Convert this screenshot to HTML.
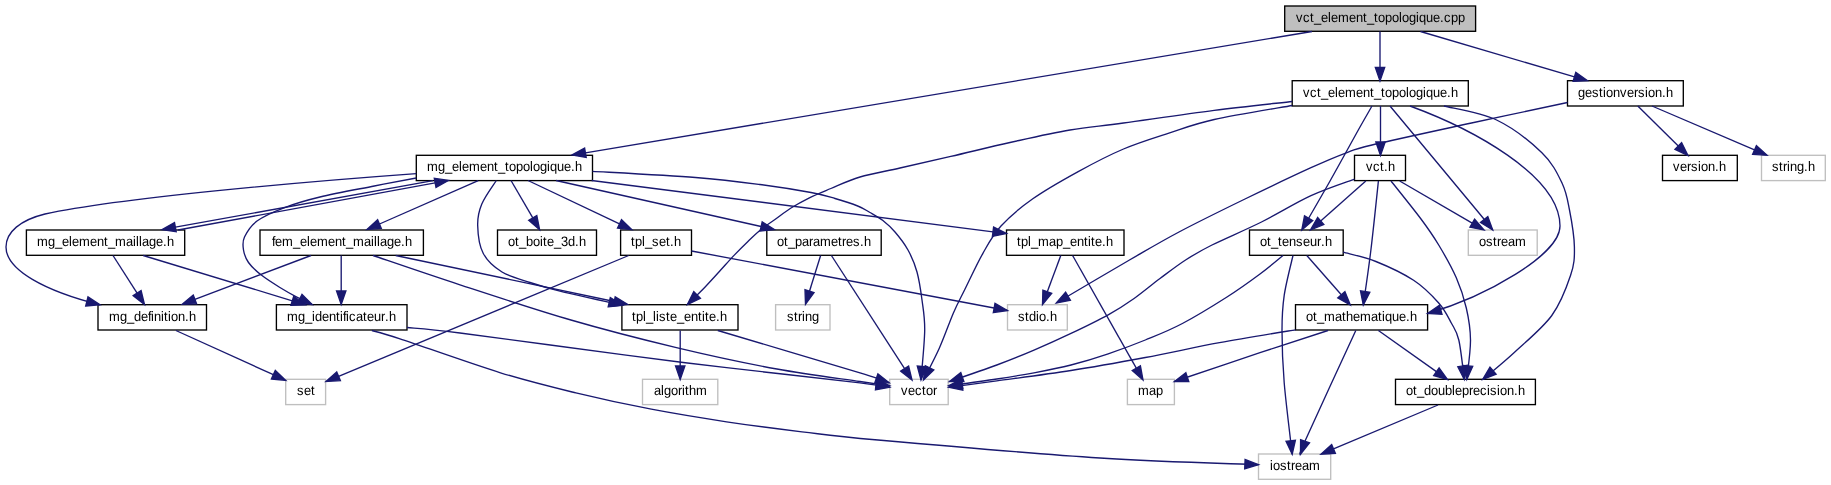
<!DOCTYPE html><html><head><meta charset="utf-8"><style>html,body{margin:0;padding:0;background:#fff;}svg{display:block;will-change:transform}text{font-family:"Liberation Sans",sans-serif;font-size:13.7px;fill:#000;text-anchor:start}</style></head><body>
<svg width="1831" height="485" viewBox="0 0 1831 485">
<rect width="1831" height="485" fill="#fff"/>
<rect x="1284.7" y="6.0" width="190.9" height="25.3" fill="#bfbfbf" stroke="#000" stroke-width="1.35"/>
<text transform="translate(1296.10,22.00) scale(0.950,1) skewX(0.6)" x="0.00 7.37 14.74 18.95 26.32 33.68 36.84 44.21 55.79 63.16 70.53 74.74 82.11 86.32 93.68 101.05 108.42 111.58 118.95 126.32 129.47 136.84 144.21 151.58 155.79 163.16 170.53">vct_element_topologique.cpp</text>
<rect x="1292.2" y="80.7" width="176.1" height="25.3" fill="#fff" stroke="#000" stroke-width="1.35"/>
<text transform="translate(1303.10,97.00) scale(0.950,1) skewX(0.6)" x="0.00 7.37 14.74 18.95 26.32 33.68 36.84 44.21 55.79 63.16 70.53 74.74 82.11 86.32 93.68 101.05 108.42 111.58 118.95 126.32 129.47 136.84 144.21 151.58 155.79">vct_element_topologique.h</text>
<rect x="1567.5" y="80.7" width="115.8" height="25.3" fill="#fff" stroke="#000" stroke-width="1.35"/>
<text transform="translate(1578.10,97.00) scale(0.950,1) skewX(0.6)" x="0.00 7.37 14.74 22.11 26.32 29.47 36.84 44.21 51.58 58.95 63.16 70.53 73.68 81.05 88.42 92.63">gestionversion.h</text>
<rect x="416.3" y="155.3" width="176.2" height="25.3" fill="#fff" stroke="#000" stroke-width="1.35"/>
<text transform="translate(427.10,171.00) scale(0.950,1) skewX(0.6)" x="0.00 11.58 18.95 26.32 33.68 36.84 44.21 55.79 63.16 70.53 74.74 82.11 86.32 93.68 101.05 108.42 111.58 118.95 126.32 129.47 136.84 144.21 151.58 155.79">mg_element_topologique.h</text>
<rect x="1354.5" y="155.3" width="51.0" height="25.3" fill="#fff" stroke="#000" stroke-width="1.35"/>
<text transform="translate(1366.10,171.00) scale(0.950,1) skewX(0.6)" x="0.00 7.37 14.74 18.95 23.16">vct.h</text>
<rect x="1662.5" y="155.3" width="74.8" height="25.3" fill="#fff" stroke="#000" stroke-width="1.35"/>
<text transform="translate(1673.10,171.00) scale(0.950,1) skewX(0.6)" x="0.00 7.37 14.74 18.95 26.32 29.47 36.84 44.21 48.42">version.h</text>
<rect x="1761.5" y="155.3" width="63.8" height="25.3" fill="#fff" stroke="#bfbfbf" stroke-width="1.35"/>
<text transform="translate(1772.10,171.00) scale(0.950,1) skewX(0.6)" x="0.00 7.37 11.58 15.79 18.95 26.32 33.68 37.89">string.h</text>
<rect x="26.4" y="230.0" width="158.3" height="25.3" fill="#fff" stroke="#000" stroke-width="1.35"/>
<text transform="translate(37.10,246.00) scale(0.950,1) skewX(0.6)" x="0.00 11.58 18.95 26.32 33.68 36.84 44.21 55.79 63.16 70.53 74.74 82.11 93.68 101.05 104.21 107.37 110.53 117.89 125.26 132.63 136.84">mg_element_maillage.h</text>
<rect x="260.0" y="230.0" width="163.4" height="25.3" fill="#fff" stroke="#000" stroke-width="1.35"/>
<text transform="translate(272.10,246.00) scale(0.950,1) skewX(0.6)" x="0.00 3.16 10.53 22.11 29.47 36.84 40.00 47.37 58.95 66.32 73.68 77.89 85.26 96.84 104.21 107.37 110.53 113.68 121.05 128.42 135.79 140.00">fem_element_maillage.h</text>
<rect x="497.5" y="230.0" width="99.0" height="25.3" fill="#fff" stroke="#000" stroke-width="1.35"/>
<text transform="translate(508.10,246.00) scale(0.950,1) skewX(0.6)" x="0.00 7.37 11.58 18.95 26.32 33.68 36.84 41.05 48.42 55.79 63.16 70.53 74.74">ot_boite_3d.h</text>
<rect x="620.6" y="230.0" width="70.9" height="25.3" fill="#fff" stroke="#000" stroke-width="1.35"/>
<text transform="translate(631.10,246.00) scale(0.950,1) skewX(0.6)" x="0.00 4.21 11.58 14.74 22.11 29.47 36.84 41.05 45.26">tpl_set.h</text>
<rect x="766.8" y="230.0" width="114.4" height="25.3" fill="#fff" stroke="#000" stroke-width="1.35"/>
<text transform="translate(777.10,246.00) scale(0.950,1) skewX(0.6)" x="0.00 7.37 11.58 18.95 26.32 33.68 37.89 45.26 56.84 64.21 68.42 72.63 80.00 87.37 91.58">ot_parametres.h</text>
<rect x="1006.5" y="230.0" width="117.5" height="25.3" fill="#fff" stroke="#000" stroke-width="1.35"/>
<text transform="translate(1017.10,246.00) scale(0.950,1) skewX(0.6)" x="0.00 4.21 11.58 14.74 22.11 33.68 41.05 48.42 55.79 63.16 70.53 74.74 77.89 82.11 89.47 93.68">tpl_map_entite.h</text>
<rect x="1249.5" y="230.0" width="93.7" height="25.3" fill="#fff" stroke="#000" stroke-width="1.35"/>
<text transform="translate(1260.10,246.00) scale(0.950,1) skewX(0.6)" x="0.00 7.37 11.58 18.95 23.16 30.53 37.89 45.26 52.63 60.00 64.21 68.42">ot_tenseur.h</text>
<rect x="1468.3" y="230.0" width="68.9" height="25.3" fill="#fff" stroke="#bfbfbf" stroke-width="1.35"/>
<text transform="translate(1479.10,246.00) scale(0.950,1) skewX(0.6)" x="0.00 7.37 14.74 18.95 23.16 30.53 37.89">ostream</text>
<rect x="98.0" y="304.7" width="108.5" height="25.3" fill="#fff" stroke="#000" stroke-width="1.35"/>
<text transform="translate(109.10,321.00) scale(0.950,1) skewX(0.6)" x="0.00 11.58 18.95 26.32 33.68 41.05 44.21 47.37 54.74 57.89 62.11 65.26 72.63 80.00 84.21">mg_definition.h</text>
<rect x="276.4" y="304.7" width="130.6" height="25.3" fill="#fff" stroke="#000" stroke-width="1.35"/>
<text transform="translate(287.10,321.00) scale(0.950,1) skewX(0.6)" x="0.00 11.58 18.95 26.32 29.47 36.84 44.21 51.58 55.79 58.95 62.11 65.26 72.63 80.00 84.21 91.58 98.95 103.16 107.37">mg_identificateur.h</text>
<rect x="621.9" y="304.7" width="116.1" height="25.3" fill="#fff" stroke="#000" stroke-width="1.35"/>
<text transform="translate(632.10,321.00) scale(0.950,1) skewX(0.6)" x="0.00 4.21 11.58 14.74 22.11 25.26 28.42 35.79 40.00 47.37 54.74 62.11 69.47 73.68 76.84 81.05 88.42 92.63">tpl_liste_entite.h</text>
<rect x="775.6" y="304.7" width="54.4" height="25.3" fill="#fff" stroke="#bfbfbf" stroke-width="1.35"/>
<text transform="translate(787.10,321.00) scale(0.950,1) skewX(0.6)" x="0.00 7.37 11.58 15.79 18.95 26.32">string</text>
<rect x="1007.5" y="304.7" width="59.8" height="25.3" fill="#fff" stroke="#bfbfbf" stroke-width="1.35"/>
<text transform="translate(1018.10,321.00) scale(0.950,1) skewX(0.6)" x="0.00 7.37 11.58 18.95 22.11 29.47 33.68">stdio.h</text>
<rect x="1295.5" y="304.7" width="132.1" height="25.3" fill="#fff" stroke="#000" stroke-width="1.35"/>
<text transform="translate(1306.10,321.00) scale(0.950,1) skewX(0.6)" x="0.00 7.37 11.58 18.95 30.53 37.89 42.11 49.47 56.84 68.42 75.79 80.00 83.16 90.53 97.89 105.26 109.47">ot_mathematique.h</text>
<rect x="285.7" y="379.3" width="39.9" height="25.3" fill="#fff" stroke="#bfbfbf" stroke-width="1.35"/>
<text transform="translate(297.10,395.00) scale(0.950,1) skewX(0.6)" x="0.00 7.37 14.74">set</text>
<rect x="642.5" y="379.3" width="75.3" height="25.3" fill="#fff" stroke="#bfbfbf" stroke-width="1.35"/>
<text transform="translate(654.10,395.00) scale(0.950,1) skewX(0.6)" x="0.00 7.37 10.53 17.89 25.26 29.47 32.63 36.84 44.21">algorithm</text>
<rect x="889.7" y="379.3" width="58.5" height="25.3" fill="#fff" stroke="#bfbfbf" stroke-width="1.35"/>
<text transform="translate(901.10,395.00) scale(0.950,1) skewX(0.6)" x="0.00 7.37 14.74 22.11 26.32 33.68">vector</text>
<rect x="1127.4" y="379.3" width="47.0" height="25.3" fill="#fff" stroke="#bfbfbf" stroke-width="1.35"/>
<text transform="translate(1138.10,395.00) scale(0.950,1) skewX(0.6)" x="0.00 11.58 18.95">map</text>
<rect x="1395.5" y="379.3" width="139.9" height="25.3" fill="#fff" stroke="#000" stroke-width="1.35"/>
<text transform="translate(1406.10,395.00) scale(0.950,1) skewX(0.6)" x="0.00 7.37 11.58 18.95 26.32 33.68 41.05 48.42 51.58 58.95 66.32 70.53 77.89 85.26 88.42 95.79 98.95 106.32 113.68 117.89">ot_doubleprecision.h</text>
<rect x="1258.5" y="454.0" width="72.2" height="25.3" fill="#fff" stroke="#bfbfbf" stroke-width="1.35"/>
<text transform="translate(1270.10,470.00) scale(0.950,1) skewX(0.6)" x="0.00 3.16 10.53 17.89 22.11 26.32 33.68 41.05">iostream</text>
<path d="M1312.0,31.5 L585.4,152.8" fill="none" stroke="#191970" stroke-width="1.35"/>
<polygon points="584.6,148.1 572.0,155.0 586.2,157.4" fill="#191970" stroke="#191970" stroke-width="1.35"/>
<path d="M1380.0,31.5 L1380.0,67.4" fill="none" stroke="#191970" stroke-width="1.35"/>
<polygon points="1375.3,67.4 1380.0,81.0 1384.7,67.4" fill="#191970" stroke="#191970" stroke-width="1.35"/>
<path d="M1420.5,31.5 L1574.5,76.9" fill="none" stroke="#191970" stroke-width="1.35"/>
<polygon points="1573.1,81.4 1587.5,80.7 1575.8,72.3" fill="#191970" stroke="#191970" stroke-width="1.35"/>
<path d="M1637.8,106.0 L1678.3,146.0" fill="none" stroke="#191970" stroke-width="1.35"/>
<polygon points="1675.0,149.3 1688.0,155.5 1681.6,142.6" fill="#191970" stroke="#191970" stroke-width="1.35"/>
<path d="M1652.0,106.0 L1754.5,149.9" fill="none" stroke="#191970" stroke-width="1.35"/>
<polygon points="1752.6,154.3 1767.0,155.3 1756.4,145.6" fill="#191970" stroke="#191970" stroke-width="1.35"/>
<path d="M1567.5,102.5 C1551.5,105.9 1504.1,115.9 1471.5,123.0 1438.9,130.1 1393.1,139.9 1372.0,145.0 1350.9,150.1 1355.2,149.5 1345.0,153.3 1334.8,157.1 1327.7,160.1 1311.0,167.7 1294.3,175.3 1267.0,188.3 1245.0,199.0 1223.0,209.7 1198.2,221.8 1179.0,232.0 1159.8,242.2 1150.0,248.2 1129.5,260.0 1109.0,271.8 1068.5,295.8 1056.3,303.0" fill="none" stroke="#191970" stroke-width="1.35"/>
<polygon points="1065.6,292.1 1056.3,303.0 1070.4,300.2" fill="#191970" stroke="#191970" stroke-width="1.35"/>
<path d="M1380.5,106.0 L1380.5,141.9" fill="none" stroke="#191970" stroke-width="1.35"/>
<polygon points="1375.8,141.9 1380.5,155.5 1385.2,141.9" fill="#191970" stroke="#191970" stroke-width="1.35"/>
<path d="M1372.0,106.0 C1369.7,110.0 1365.2,117.7 1358.3,130.0 1351.4,142.3 1340.0,163.3 1330.6,180.0 1321.2,196.7 1306.6,221.7 1301.8,230.0" fill="none" stroke="#191970" stroke-width="1.35"/>
<polygon points="1304.5,215.9 1301.8,230.0 1312.7,220.6" fill="#191970" stroke="#191970" stroke-width="1.35"/>
<path d="M1390.0,106.0 C1404.4,123.3 1459.4,189.3 1476.5,210.0 1493.6,230.7 1490.0,226.7 1492.7,230.0" fill="none" stroke="#191970" stroke-width="1.35"/>
<polygon points="1480.5,222.4 1492.7,230.0 1487.8,216.5" fill="#191970" stroke="#191970" stroke-width="1.35"/>
<path d="M1410.0,106.0 C1470.0,128.0 1560.0,175.0 1560.0,226.0 1560.0,255.0 1485.0,297.0 1427.6,313.5" fill="none" stroke="#191970" stroke-width="1.35"/>
<polygon points="1439.4,305.2 1427.6,313.5 1442.0,314.3" fill="#191970" stroke="#191970" stroke-width="1.35"/>
<path d="M1443.9,106.0 C1452.7,108.3 1480.3,112.2 1496.6,120.0 1512.9,127.8 1531.0,142.3 1541.9,152.8 1552.8,163.3 1557.4,173.5 1562.0,183.0 1566.6,192.5 1567.4,199.3 1569.5,210.0 1571.6,220.7 1574.2,236.1 1574.4,247.0 1574.6,257.9 1574.4,263.9 1570.6,275.3 1566.8,286.7 1561.2,302.6 1551.8,315.5 1542.4,328.4 1525.5,342.0 1514.0,352.7 1502.5,363.4 1487.9,375.0 1482.7,379.5" fill="none" stroke="#191970" stroke-width="1.35"/>
<polygon points="1490.0,367.1 1482.7,379.5 1496.1,374.2" fill="#191970" stroke="#191970" stroke-width="1.35"/>
<path d="M1292.2,101.5 C1279.2,103.0 1242.3,106.8 1214.2,110.4 1186.1,114.0 1147.5,119.7 1123.5,123.0 1099.5,126.3 1088.9,126.8 1070.0,130.0 1051.1,133.2 1029.9,138.1 1010.0,142.5 990.1,146.9 969.1,152.2 950.8,156.4 932.5,160.7 915.1,164.6 900.0,168.0 884.9,171.4 871.5,173.6 860.0,177.0 848.5,180.4 839.3,185.0 830.9,188.5 822.5,192.0 816.1,194.5 809.4,197.8 802.7,201.1 796.4,204.6 790.6,208.3 784.8,212.0 779.5,216.3 774.6,219.8 769.7,223.3 765.7,225.7 761.2,229.3 756.7,233.0 752.2,237.4 747.7,241.7 743.2,246.0 738.8,250.4 734.3,255.1 729.8,259.8 725.8,264.4 720.9,269.8 716.0,275.2 710.5,281.4 704.9,287.2 699.3,293.0 690.3,301.6 687.4,304.5" fill="none" stroke="#191970" stroke-width="1.35"/>
<polygon points="693.8,291.6 687.4,304.5 700.4,298.3" fill="#191970" stroke="#191970" stroke-width="1.35"/>
<path d="M1292.2,105.5 C1279.2,107.8 1234.8,114.9 1214.2,119.5 1193.7,124.1 1184.0,128.2 1168.9,133.1 1153.8,138.0 1138.6,142.6 1123.5,149.0 1108.4,155.4 1093.3,163.3 1078.2,171.6 1063.1,179.9 1045.7,189.7 1032.8,198.8 1019.9,207.9 1009.3,216.9 1001.0,226.0 992.7,235.1 988.9,242.7 982.9,253.3 976.9,263.9 969.7,279.6 964.8,289.5 959.9,299.4 957.6,303.2 953.4,313.0 949.2,322.8 944.4,336.8 939.4,348.0 934.4,359.2 926.1,374.7 923.5,380.0" fill="none" stroke="#191970" stroke-width="1.35"/>
<polygon points="925.3,365.7 923.5,380.0 933.8,369.9" fill="#191970" stroke="#191970" stroke-width="1.35"/>
<path d="M433.0,180.6 L175.4,227.2" fill="none" stroke="#191970" stroke-width="1.35"/>
<polygon points="174.5,222.6 162.0,229.6 176.2,231.8" fill="#191970" stroke="#191970" stroke-width="1.35"/>
<path d="M178.0,230.0 L435.1,182.9" fill="none" stroke="#191970" stroke-width="1.35"/>
<polygon points="436.0,187.5 448.5,180.4 434.3,178.2" fill="#191970" stroke="#191970" stroke-width="1.35"/>
<path d="M478.2,180.7 L379.5,224.0" fill="none" stroke="#191970" stroke-width="1.35"/>
<polygon points="377.6,219.7 367.0,229.5 381.3,228.3" fill="#191970" stroke="#191970" stroke-width="1.35"/>
<path d="M511.0,180.5 L532.8,217.9" fill="none" stroke="#191970" stroke-width="1.35"/>
<polygon points="528.7,220.3 539.6,229.7 536.8,215.6" fill="#191970" stroke="#191970" stroke-width="1.35"/>
<path d="M528.0,180.5 L619.5,223.9" fill="none" stroke="#191970" stroke-width="1.35"/>
<polygon points="617.5,228.1 631.8,229.7 621.5,219.6" fill="#191970" stroke="#191970" stroke-width="1.35"/>
<path d="M556.0,180.5 L761.1,226.5" fill="none" stroke="#191970" stroke-width="1.35"/>
<polygon points="760.1,231.1 774.4,229.5 762.2,221.9" fill="#191970" stroke="#191970" stroke-width="1.35"/>
<path d="M591.6,180.5 L993.0,231.8" fill="none" stroke="#191970" stroke-width="1.35"/>
<polygon points="992.4,236.4 1006.5,233.5 993.6,227.1" fill="#191970" stroke="#191970" stroke-width="1.35"/>
<path d="M592.5,171.3 C609.7,172.3 667.6,175.3 695.5,177.5 723.4,179.7 740.8,182.0 760.0,184.5 779.2,187.0 798.5,190.2 811.0,192.5 823.5,194.8 827.2,196.2 835.0,198.5 842.8,200.8 851.9,203.7 857.7,206.0 863.5,208.3 865.8,210.1 870.0,212.5 874.2,214.9 878.7,217.2 882.9,220.5 887.1,223.8 890.8,227.1 895.0,232.0 899.2,236.9 904.3,243.3 908.0,250.0 911.7,256.7 914.7,263.7 917.0,272.0 919.3,280.3 920.7,290.2 922.0,300.0 923.3,309.8 924.9,317.2 924.7,330.5 924.5,343.8 921.6,371.8 921.0,380.0" fill="none" stroke="#191970" stroke-width="1.35"/>
<polygon points="917.3,366.1 921.0,380.0 926.7,366.8" fill="#191970" stroke="#191970" stroke-width="1.35"/>
<path d="M416.3,173.6 C300.0,182.0 120.0,198.0 45.0,214.0 20.5,220.0 6.0,232.0 6.0,247.0 6.0,270.0 45.0,291.0 100.0,304.8" fill="none" stroke="#191970" stroke-width="1.35"/>
<polygon points="85.7,306.0 100.0,304.8 88.0,296.9" fill="#191970" stroke="#191970" stroke-width="1.35"/>
<path d="M416.3,178.0 C409.3,179.3 390.4,182.8 374.3,186.0 358.2,189.2 335.1,193.4 320.0,197.0 304.9,200.6 294.5,203.8 284.0,207.8 273.5,211.8 263.6,216.1 257.0,221.0 250.4,225.9 246.8,232.2 244.5,237.0 242.2,241.8 242.8,245.8 243.5,250.0 244.2,254.2 245.6,258.4 248.5,262.5 251.4,266.6 255.8,270.7 261.0,274.8 266.2,278.9 273.5,283.5 279.5,287.2 285.5,290.9 291.4,294.2 296.8,297.1 302.2,300.0 309.6,303.3 312.2,304.5" fill="none" stroke="#191970" stroke-width="1.35"/>
<polygon points="297.9,302.8 312.2,304.5 302.0,294.4" fill="#191970" stroke="#191970" stroke-width="1.35"/>
<path d="M496.3,180.5 C493.9,184.4 484.9,196.5 481.8,204.0 478.7,211.5 477.4,217.4 477.7,225.7 477.9,233.9 479.2,245.8 483.3,253.5 487.4,261.2 494.2,267.2 502.0,272.0 509.8,276.8 520.3,279.3 530.0,282.5 539.7,285.7 544.6,287.3 560.0,291.1 575.4,294.9 612.1,302.9 622.5,305.2" fill="none" stroke="#191970" stroke-width="1.35"/>
<polygon points="608.2,306.8 622.5,305.2 610.3,297.6" fill="#191970" stroke="#191970" stroke-width="1.35"/>
<path d="M113.0,255.5 L137.1,293.1" fill="none" stroke="#191970" stroke-width="1.35"/>
<polygon points="133.2,295.6 144.5,304.5 141.1,290.5" fill="#191970" stroke="#191970" stroke-width="1.35"/>
<path d="M143.2,255.5 L292.3,300.8" fill="none" stroke="#191970" stroke-width="1.35"/>
<polygon points="290.9,305.3 305.3,304.8 293.7,296.3" fill="#191970" stroke="#191970" stroke-width="1.35"/>
<path d="M311.0,255.5 L194.9,299.4" fill="none" stroke="#191970" stroke-width="1.35"/>
<polygon points="193.3,295.0 182.2,304.2 196.6,303.8" fill="#191970" stroke="#191970" stroke-width="1.35"/>
<path d="M341.2,255.5 L341.2,290.9" fill="none" stroke="#191970" stroke-width="1.35"/>
<polygon points="336.5,290.9 341.2,304.5 345.9,290.9" fill="#191970" stroke="#191970" stroke-width="1.35"/>
<path d="M395.7,255.5 L614.2,301.5" fill="none" stroke="#191970" stroke-width="1.35"/>
<polygon points="613.2,306.1 627.5,304.3 615.2,296.9" fill="#191970" stroke="#191970" stroke-width="1.35"/>
<path d="M373.0,255.5 C387.5,260.4 427.0,274.1 460.0,284.8 493.0,295.6 534.8,309.5 570.9,320.0 607.0,330.5 642.1,339.4 676.4,347.6 710.7,355.8 746.3,363.4 776.9,369.0 807.5,374.6 841.2,378.7 860.0,381.5 878.8,384.3 884.8,385.1 889.7,385.8" fill="none" stroke="#191970" stroke-width="1.35"/>
<polygon points="875.6,388.5 889.7,385.8 876.9,379.2" fill="#191970" stroke="#191970" stroke-width="1.35"/>
<path d="M175.9,330.5 L273.3,374.7" fill="none" stroke="#191970" stroke-width="1.35"/>
<polygon points="271.4,379.0 285.7,380.3 275.3,370.4" fill="#191970" stroke="#191970" stroke-width="1.35"/>
<path d="M407.0,327.5 C415.8,328.4 423.5,328.4 460.0,333.0 496.5,337.6 581.6,349.4 626.0,355.2 670.4,361.0 687.6,363.1 726.6,367.7 765.6,372.3 832.8,379.5 860.0,382.8 887.2,386.1 884.8,386.6 889.7,387.3" fill="none" stroke="#191970" stroke-width="1.35"/>
<polygon points="875.5,389.9 889.7,387.3 877.0,380.6" fill="#191970" stroke="#191970" stroke-width="1.35"/>
<path d="M371.9,330.5 C376.6,331.9 378.6,331.8 400.0,338.8 421.4,345.9 471.2,363.8 500.5,372.8 529.8,381.8 550.8,386.8 575.9,392.9 601.0,399.0 626.2,404.4 651.3,409.2 676.4,414.0 701.5,418.0 726.6,421.8 751.7,425.6 776.8,428.8 802.0,431.8 827.2,434.8 828.3,435.6 878.0,440.0 927.7,444.4 1036.6,453.9 1100.0,458.0 1163.4,462.1 1232.1,463.6 1258.5,464.7" fill="none" stroke="#191970" stroke-width="1.35"/>
<polygon points="1244.7,468.8 1258.5,464.7 1245.1,459.4" fill="#191970" stroke="#191970" stroke-width="1.35"/>
<path d="M628.7,255.5 L338.6,376.3" fill="none" stroke="#191970" stroke-width="1.35"/>
<polygon points="336.7,371.9 326.0,381.5 340.4,380.6" fill="#191970" stroke="#191970" stroke-width="1.35"/>
<path d="M691.5,251.0 L994.1,308.0" fill="none" stroke="#191970" stroke-width="1.35"/>
<polygon points="993.3,312.6 1007.5,310.5 995.0,303.4" fill="#191970" stroke="#191970" stroke-width="1.35"/>
<path d="M820.6,255.5 L809.5,291.2" fill="none" stroke="#191970" stroke-width="1.35"/>
<polygon points="805.0,289.8 805.5,304.2 814.0,292.6" fill="#191970" stroke="#191970" stroke-width="1.35"/>
<path d="M831.4,255.5 L904.6,368.6" fill="none" stroke="#191970" stroke-width="1.35"/>
<polygon points="900.7,371.1 912.0,380.0 908.6,366.0" fill="#191970" stroke="#191970" stroke-width="1.35"/>
<path d="M1060.8,255.5 L1047.3,291.8" fill="none" stroke="#191970" stroke-width="1.35"/>
<polygon points="1042.9,290.1 1042.5,304.5 1051.7,293.4" fill="#191970" stroke="#191970" stroke-width="1.35"/>
<path d="M1072.6,255.5 L1136.3,368.2" fill="none" stroke="#191970" stroke-width="1.35"/>
<polygon points="1132.2,370.5 1143.0,380.0 1140.4,365.8" fill="#191970" stroke="#191970" stroke-width="1.35"/>
<path d="M680.2,330.5 L680.2,365.9" fill="none" stroke="#191970" stroke-width="1.35"/>
<polygon points="675.5,365.9 680.2,379.5 684.9,365.9" fill="#191970" stroke="#191970" stroke-width="1.35"/>
<path d="M717.8,330.5 C741.5,337.6 831.4,364.1 860.0,372.8 888.6,381.5 884.3,381.1 889.2,382.8" fill="none" stroke="#191970" stroke-width="1.35"/>
<polygon points="874.8,382.8 889.2,382.8 877.9,373.9" fill="#191970" stroke="#191970" stroke-width="1.35"/>
<path d="M1365.8,181.0 L1320.7,221.0" fill="none" stroke="#191970" stroke-width="1.35"/>
<polygon points="1317.6,217.5 1310.5,230.0 1323.8,224.5" fill="#191970" stroke="#191970" stroke-width="1.35"/>
<path d="M1399.7,181.0 L1472.2,223.2" fill="none" stroke="#191970" stroke-width="1.35"/>
<polygon points="1469.9,227.2 1484.0,230.0 1474.6,219.1" fill="#191970" stroke="#191970" stroke-width="1.35"/>
<path d="M1378.4,181.0 C1377.2,192.5 1373.4,229.3 1370.9,250.0 1368.4,270.7 1364.6,295.8 1363.3,305.0" fill="none" stroke="#191970" stroke-width="1.35"/>
<polygon points="1360.5,290.9 1363.3,305.0 1369.8,292.2" fill="#191970" stroke="#191970" stroke-width="1.35"/>
<path d="M1391.0,181.0 C1396.0,187.3 1413.0,208.3 1421.0,219.0 1429.0,229.7 1432.8,235.2 1438.7,245.0 1444.6,254.8 1451.7,267.3 1456.3,277.8 1460.9,288.3 1463.9,297.6 1466.3,308.0 1468.7,318.4 1470.4,328.1 1470.5,340.0 1470.6,351.9 1467.4,372.9 1466.8,379.5" fill="none" stroke="#191970" stroke-width="1.35"/>
<polygon points="1463.4,365.5 1466.8,379.5 1472.7,366.4" fill="#191970" stroke="#191970" stroke-width="1.35"/>
<path d="M1354.5,179.2 C1347.2,181.9 1326.5,188.6 1311.0,195.7 1295.5,202.8 1278.0,213.8 1261.5,222.0 1245.0,230.2 1224.7,238.7 1212.0,245.0 1199.3,251.3 1194.3,254.4 1185.6,260.0 1176.9,265.6 1168.6,272.1 1160.0,278.5 1151.4,284.9 1142.7,292.4 1134.1,298.5 1125.5,304.6 1118.7,309.0 1108.2,314.8 1097.7,320.6 1083.4,327.5 1071.0,333.4 1058.6,339.3 1046.4,344.8 1034.0,350.1 1021.6,355.4 1010.9,359.8 996.8,365.0 982.7,370.2 957.4,378.8 949.5,381.5" fill="none" stroke="#191970" stroke-width="1.35"/>
<polygon points="960.8,372.6 949.5,381.5 963.9,381.5" fill="#191970" stroke="#191970" stroke-width="1.35"/>
<path d="M1306.8,255.5 L1341.3,294.8" fill="none" stroke="#191970" stroke-width="1.35"/>
<polygon points="1337.8,297.9 1350.3,305.0 1344.9,291.7" fill="#191970" stroke="#191970" stroke-width="1.35"/>
<path d="M1343.2,252.2 C1348.7,253.8 1364.2,256.8 1375.9,261.5 1387.6,266.2 1403.1,273.4 1413.6,280.3 1424.1,287.2 1432.4,295.9 1438.7,303.0 1445.0,310.1 1448.0,316.8 1451.3,323.0 1454.6,329.2 1456.6,330.6 1458.8,340.0 1461.0,349.4 1463.4,372.9 1464.3,379.5" fill="none" stroke="#191970" stroke-width="1.35"/>
<polygon points="1457.8,366.7 1464.3,379.5 1467.1,365.4" fill="#191970" stroke="#191970" stroke-width="1.35"/>
<path d="M1283.0,255.5 C1279.2,258.6 1269.3,267.1 1260.0,274.0 1250.7,280.9 1239.9,288.8 1227.0,297.0 1214.1,305.2 1196.0,316.3 1182.4,323.5 1168.8,330.7 1157.7,334.9 1145.3,340.0 1132.9,345.1 1120.6,349.6 1108.2,353.8 1095.8,358.0 1083.4,361.8 1071.0,365.0 1058.6,368.2 1046.4,370.5 1034.0,372.8 1021.6,375.1 1011.0,376.8 996.8,379.0 982.6,381.2 956.7,384.7 948.7,385.8" fill="none" stroke="#191970" stroke-width="1.35"/>
<polygon points="961.5,379.2 948.7,385.8 962.8,388.5" fill="#191970" stroke="#191970" stroke-width="1.35"/>
<path d="M1293.0,255.5 C1291.5,262.1 1286.0,283.0 1284.2,295.4 1282.4,307.8 1282.0,315.4 1282.0,330.0 1282.0,344.6 1282.5,362.1 1284.2,382.8 1285.9,403.5 1290.9,442.3 1292.2,454.2" fill="none" stroke="#191970" stroke-width="1.35"/>
<polygon points="1286.0,441.2 1292.2,454.2 1295.4,440.2" fill="#191970" stroke="#191970" stroke-width="1.35"/>
<path d="M1295.5,329.8 C1282.8,331.9 1244.5,338.1 1219.5,342.7 1194.5,347.3 1170.0,352.9 1145.3,357.5 1120.5,362.1 1095.8,366.6 1071.0,370.5 1046.2,374.4 1017.2,378.1 996.8,380.9 976.4,383.7 956.7,386.2 948.7,387.3" fill="none" stroke="#191970" stroke-width="1.35"/>
<polygon points="961.6,380.8 948.7,387.3 962.8,390.2" fill="#191970" stroke="#191970" stroke-width="1.35"/>
<path d="M1328.0,330.5 C1316.7,334.2 1285.6,344.2 1260.0,352.7 1234.4,361.2 1188.7,376.7 1174.4,381.5" fill="none" stroke="#191970" stroke-width="1.35"/>
<polygon points="1185.8,372.7 1174.4,381.5 1188.8,381.6" fill="#191970" stroke="#191970" stroke-width="1.35"/>
<path d="M1378.4,330.5 L1436.4,371.6" fill="none" stroke="#191970" stroke-width="1.35"/>
<polygon points="1433.7,375.5 1447.5,379.5 1439.1,367.8" fill="#191970" stroke="#191970" stroke-width="1.35"/>
<path d="M1355.8,330.5 C1347.4,348.8 1314.7,419.4 1305.5,440.0 1296.3,460.6 1301.3,451.8 1300.5,454.2" fill="none" stroke="#191970" stroke-width="1.35"/>
<polygon points="1300.6,439.8 1300.5,454.2 1309.5,442.9" fill="#191970" stroke="#191970" stroke-width="1.35"/>
<path d="M1438.0,405.0 L1333.5,448.9" fill="none" stroke="#191970" stroke-width="1.35"/>
<polygon points="1331.7,444.6 1321.0,454.2 1335.4,453.3" fill="#191970" stroke="#191970" stroke-width="1.35"/>
</svg></body></html>
